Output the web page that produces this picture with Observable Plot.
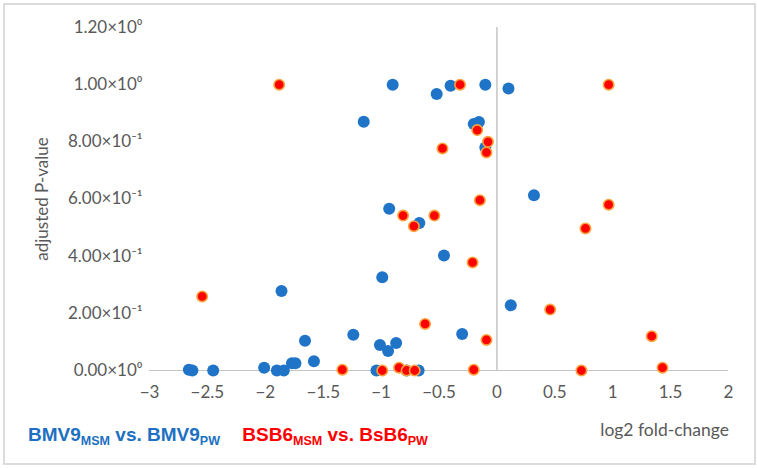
<!DOCTYPE html>
<html>
<head>
<meta charset="utf-8">
<script src="https://cdn.jsdelivr.net/npm/d3@7"></script>
<script src="https://cdn.jsdelivr.net/npm/@observablehq/plot@0.6"></script>
<style>
  html, body { margin: 0; padding: 0; background: #fff; }
  #wrap { position: relative; width: 757px; height: 468px; overflow: hidden; }
  #frame { position: absolute; left: 3px; top: 3px; width: 749px; height: 458px; border: 2px solid #dcdcdc; box-sizing: content-box; pointer-events: none; }
  #chart { position: absolute; left: 0; top: 0; }
  #bottom { position: absolute; left: 0; top: 418px; width: 757px; height: 40px; }
  #legend { position: absolute; left: 28px; top: 6px; font-family: "Liberation Sans", Arial, sans-serif; font-weight: bold; font-size: 19px; white-space: nowrap; }
  #legend span.item { margin-right: 17px; }
  #legend sub { font-size: 0.66em; vertical-align: -0.3em; line-height: 0; }
  #xlabel { position: absolute; right: 28px; top: 1px; font-family: Lato, "Open Sans", sans-serif; font-size: 17.5px; color: #595959; white-space: nowrap; }
</style>
</head>
<body>
<div id="wrap">
  <div id="frame"></div>
  <div id="chart"></div>
  <div id="bottom">
    <div id="legend">
      <span class="item" style="color:#1d70c2">BMV9<sub>MSM</sub> vs. BMV9<sub>PW</sub></span>
      <span class="item" style="color:#ff0000">BSB6<sub>MSM</sub> vs. BsB6<sub>PW</sub></span>
    </div>
    <div id="xlabel">log2 fold-change</div>
  </div>
</div>
<script>
// BMV9 (MSM vs. PW) — log2 fold-change and adjusted P-value
const bmv9FC = [-0.90, -0.52, -0.40, -0.10, 0.10, -1.15, -0.20, -0.155, -0.10, 0.32,
  -0.93, -0.67, -0.457, -0.99, -1.86, 0.12, -1.657, -1.24, -0.30, -1.01,
  -0.87, -0.94, -2.66, -2.63, -2.45, -2.01, -1.90, -1.84, -1.77, -1.74,
  -1.58, -1.04, -0.78, -0.676];
const bmv9P = [1.0, 0.967, 0.996, 1.0, 0.987, 0.87, 0.862, 0.869, 0.78, 0.613,
  0.566, 0.516, 0.402, 0.326, 0.278, 0.228, 0.104, 0.125, 0.128, 0.089,
  0.096, 0.068, 0.003, 0.0, 0.0, 0.01, 0.0, 0.0, 0.025, 0.025,
  0.032, 0.0, 0.0, 0.0];

// BSB6 (MSM vs. PW)
const bsb6FC = [-1.88, -2.545, -1.335, -0.318, -0.17, -0.077, -0.09, -0.47, -0.147, -0.81,
  -0.54, -0.717, -0.21, 0.46, -0.62, -0.09, -0.99, -0.845, -0.78, -0.71,
  -0.20, 0.965, 0.965, 0.765, 1.337, 0.73, 1.43];
const bsb6P = [1.0, 0.259, 0.003, 1.0, 0.841, 0.80, 0.763, 0.777, 0.596, 0.542,
  0.542, 0.505, 0.378, 0.213, 0.163, 0.107, 0.0, 0.01, 0.0, 0.0,
  0.003, 1.0, 0.58, 0.497, 0.12, 0.0, 0.01];

const xTicks = [-3, -2.5, -2, -1.5, -1, -0.5, 0, 0.5, 1, 1.5, 2];
const yTicks = [0, 0.2, 0.4, 0.6, 0.8, 1.0, 1.2];

const bmv9 = bmv9FC.map((fc, i) => ({fc, p: bmv9P[i]}));
const bsb6 = bsb6FC.map((fc, i) => ({fc, p: bsb6P[i]}));

const sup = {"0":"⁰","1":"¹","2":"²","3":"³","4":"⁴","5":"⁵","6":"⁶","7":"⁷","8":"⁸","9":"⁹","-":"⁻"};
function sci(v) {
  if (Math.abs(v) < 1e-12) return "0.00×10⁰";
  const e = Math.floor(Math.log10(v) + 1e-9);
  const m = v / Math.pow(10, e);
  return m.toFixed(2) + "×10" + String(e).split("").map(c => sup[c]).join("");
}

const chart = Plot.plot({
  width: 757,
  height: 418,
  marginLeft: 149,
  marginRight: 29,
  marginTop: 27,
  marginBottom: 48,
  style: {fontFamily: "Lato, 'Open Sans', sans-serif", fontSize: "17px", color: "#595959", background: "transparent"},
  x: {
    domain: [-3, 2],
    ticks: xTicks,
    tickSize: 0,
    tickPadding: 15,
    tickFormat: d3.format(""),
    label: null
  },
  y: {
    domain: [0, 1.2],
    ticks: yTicks,
    tickSize: 0,
    tickPadding: 7,
    tickFormat: sci,
    label: "adjusted P-value",
    labelAnchor: "center",
    labelArrow: "none",
    labelOffset: 114
  },
  marks: [
    Plot.ruleY([0], {stroke: "#c4c4c4", strokeWidth: 1.2}),
    Plot.ruleX([0], {stroke: "#cfcfcf", strokeWidth: 1.8}),
    Plot.dot(bmv9, {x: "fc", y: "p", r: 6, fill: "#1f74c8"}),
    Plot.dot(bsb6, {x: "fc", y: "p", r: 5.2, fill: "#ff0000", stroke: "#f7a33f", strokeWidth: 1.6})
  ]
});
document.getElementById("chart").appendChild(chart);
</script>
</body>
</html>
